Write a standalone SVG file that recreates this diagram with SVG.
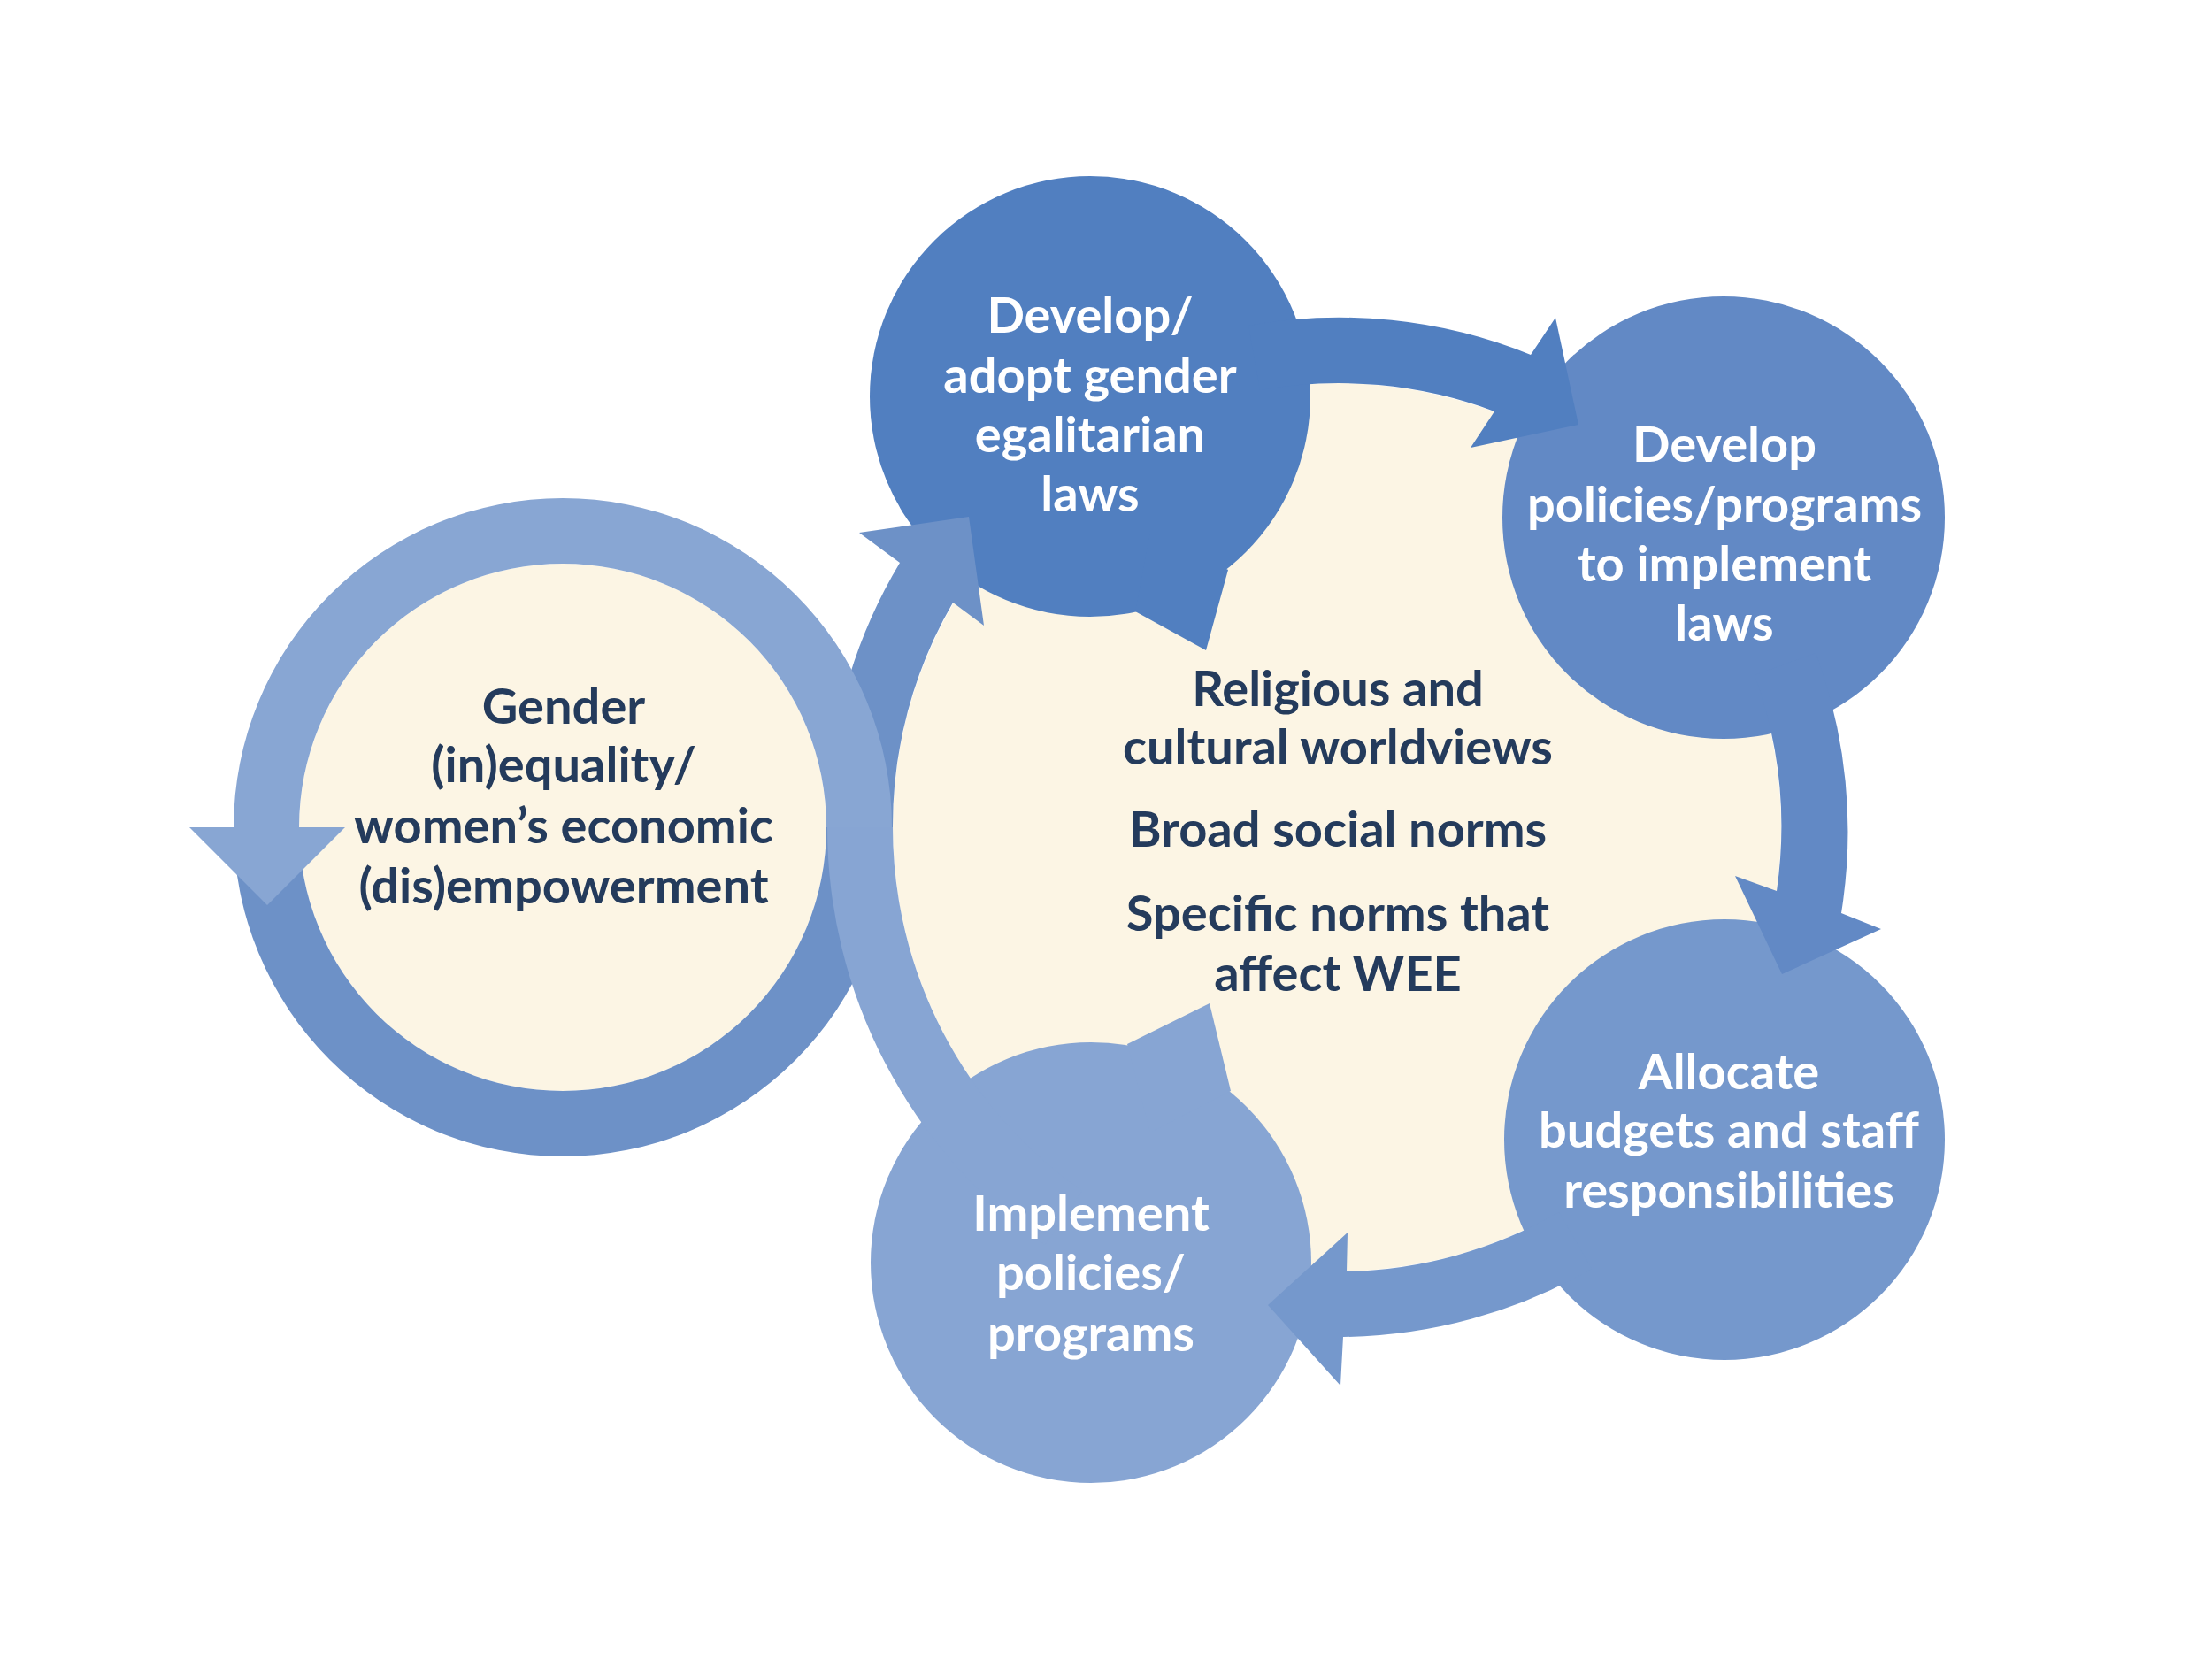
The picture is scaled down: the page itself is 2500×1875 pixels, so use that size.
<svg xmlns="http://www.w3.org/2000/svg" width="2500" height="1875" viewBox="0 0 2500 1875">
  <style>
    .lbl { font-family: Lato, "Open Sans", "Liberation Sans", sans-serif; font-weight: 700; font-size: 56px; text-anchor: middle; }
    .w { fill: #FFFFFF; }
    .n { fill: #243B5C; }
    .cream { fill: #FCF5E4; }
  </style>
  <rect width="2500" height="1875" fill="#FFFFFF"/>

  <!-- background cream areas -->
  <g id="center-area">
    <circle class="cream" cx="1511" cy="935" r="502"/>
  </g>
  <g id="gender-area">
    <circle class="cream" cx="636" cy="935" r="298"/>
  </g>

  <!-- node circles -->
  <g id="node-adopt">
    <circle cx="1232" cy="448" r="249" fill="#517FC0"/>
    <polygon points="1283,691 1363,735 1388,644 1300,600" fill="#517FC0"/>
  </g>
  <g id="node-policies">
    <circle cx="1948" cy="585" r="250" fill="#6289C5"/>
  </g>
  <g id="node-allocate">
    <circle cx="1949" cy="1288" r="249" fill="#7598CC"/>
  </g>
  <g id="node-implement">
    <circle cx="1233" cy="1427" r="249" fill="#87A5D3"/>
    <polygon points="1274,1180 1367,1134 1391,1233 1300,1280" fill="#87A5D3"/>
  </g>

  <!-- connectors -->
  <g id="connectors">
    <!-- dark: gender ring bottom half, then big ring up into Develop/adopt -->
    <path d="M 264,935 A 372 372 0 0 0 1008,935 L 934,935 A 298 298 0 0 1 338,935 Z" fill="#6D91C7"/>
    <path d="M 935,935 A 576 576 0 0 1 1017,636 L 971,602 L 1095,584 L 1112,707 L 1077,681 A 502 502 0 0 0 1009,935 Z" fill="#6D91C7"/>
    <!-- light: from Implement up big ring, then over gender ring top, arrow down -->
    <path d="M 1181,1407 A 576 576 0 0 1 935,935 L 1009,935 A 502 502 0 0 0 1223,1346 Z" fill="#87A5D3"/>
    <path d="M 1008,935 A 372 372 0 0 0 264,935 L 214,935 L 302,1023 L 390,935 L 338,935 A 298 298 0 0 1 934,935 Z" fill="#88A6D3"/>
    <!-- Develop/adopt -> Develop policies -->
    <path d="M 1411,368 A 576 576 0 0 1 1730,401 L 1758,359 L 1784,480 L 1662,506 L 1689,465 A 502 502 0 0 0 1424,441 Z" fill="#517FC0"/>
    <!-- Develop policies -> Allocate -->
    <path d="M 2052,738 A 576 576 0 0 1 2081,1032 L 2126,1050 L 2014,1101 L 1961,990 L 2008,1007 A 502 502 0 0 0 1983,763 Z" fill="#6289C5"/>
    <!-- Allocate -> Implement -->
    <path d="M 1799,1434 A 576 576 0 0 1 1518,1511 L 1515,1566 L 1433,1475 L 1523,1393 L 1522,1437 A 502 502 0 0 0 1762,1370 Z" fill="#7598CC"/>
  </g>

  <!-- labels -->
  <g id="label-adopt" class="lbl w">
    <text x="1232" y="376">Develop/</text>
    <text x="1232" y="444">adopt gender</text>
    <text x="1232" y="511">egalitarian</text>
    <text x="1232" y="578">laws</text>
  </g>
  <g id="label-policies" class="lbl w">
    <text x="1949" y="522">Develop</text>
    <text x="1949" y="590">policies/programs</text>
    <text x="1949" y="657">to implement</text>
    <text x="1949" y="724">laws</text>
  </g>
  <g id="label-allocate" class="lbl w">
    <text x="1954" y="1231">Allocate</text>
    <text x="1954" y="1297">budgets and staff</text>
    <text x="1954" y="1365">responsibilities</text>
  </g>
  <g id="label-implement" class="lbl w">
    <text x="1233" y="1391">Implement</text>
    <text x="1233" y="1458">policies/</text>
    <text x="1233" y="1527">programs</text>
  </g>
  <g id="label-gender" class="lbl n">
    <text x="637" y="818">Gender</text>
    <text x="637" y="884">(in)equality/</text>
    <text x="637" y="953">women’s economic</text>
    <text x="637" y="1021">(dis)empowerment</text>
  </g>
  <g id="label-center" class="lbl n">
    <text x="1512" y="798">Religious and</text>
    <text x="1512" y="864">cultural worldviews</text>
    <text x="1512" y="957">Broad social norms</text>
    <text x="1512" y="1052">Specific norms that</text>
    <text x="1512" y="1120">affect WEE</text>
  </g>
</svg>
